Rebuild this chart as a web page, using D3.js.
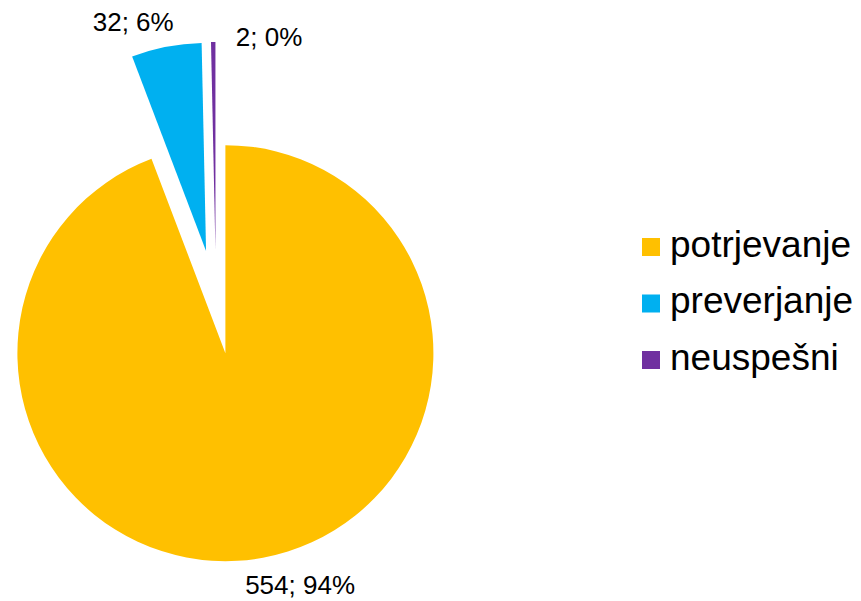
<!DOCTYPE html>
<html>
<head>
<meta charset="utf-8">
<script src="https://cdn.jsdelivr.net/npm/d3@7"></script>
<style>
  html, body { margin: 0; padding: 0; background: #fff; }
  text { font-family: "Liberation Sans", Arial, sans-serif; fill: #000; }
</style>
</head>
<body>
<div id="chart"></div>
<script>
const categories = ["potrjevanje", "preverjanje", "neuspešni"];
const values = [554, 32, 2];
const percentLabels = ["94%", "6%", "0%"];
const colors = ["#FFC000", "#00B0F0", "#7030A0"];

const width = 861, height = 601;
const cx = 216, cy = 302, radius = 208, explode = 52;

const svg = d3.select("#chart")
  .append("svg")
  .attr("width", width)
  .attr("height", height);

const pie = d3.pie().sort(null).value(d => d);
const arcs = pie(values);
const arc = d3.arc().innerRadius(0).outerRadius(radius);

// each slice pulled out along its middle angle
function sliceCenter(d) {
  const a = (d.startAngle + d.endAngle) / 2;
  return [cx + explode * Math.sin(a), cy - explode * Math.cos(a)];
}

const slices = svg.append("g")
  .selectAll("path")
  .data(arcs)
  .join("path")
    .attr("transform", d => `translate(${sliceCenter(d)})`)
    .attr("d", arc)
    .attr("fill", (d, i) => colors[i]);

// labels sit just outside the slice, Excel nudges them a bit
const labelR = radius + 14;
const labelNudge = [[34.6, 22.6], [-30.4, -2], [56, 18]];

svg.append("g")
  .selectAll("text")
  .data(arcs)
  .join("text")
    .attr("x", (d, i) => {
      const a = (d.startAngle + d.endAngle) / 2;
      return sliceCenter(d)[0] + labelR * Math.sin(a) + labelNudge[i][0];
    })
    .attr("y", (d, i) => {
      const a = (d.startAngle + d.endAngle) / 2;
      return sliceCenter(d)[1] - labelR * Math.cos(a) + labelNudge[i][1];
    })
    .attr("text-anchor", "middle")
    .style("font-size", "26px")
    .text((d, i) => `${values[i]}; ${percentLabels[i]}`);

// legend
const legendY = d3.scalePoint()
  .domain(categories)
  .range([238, 351]);

const legend = svg.append("g")
  .selectAll("g")
  .data(categories)
  .join("g")
    .attr("transform", d => `translate(642,${legendY(d)})`);

legend.append("rect")
  .attr("width", 18)
  .attr("height", 18)
  .attr("fill", (d, i) => colors[i]);

legend.append("text")
  .attr("x", 28)
  .attr("y", 18.5)
  .style("font-size", "37px")
  .text(d => d);
</script>
</body>
</html>
